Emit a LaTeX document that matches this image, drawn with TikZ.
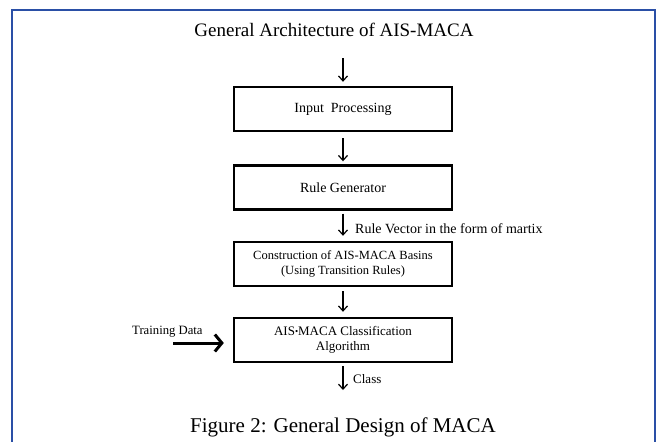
\documentclass[tikz,border=0pt]{standalone}
\usepackage{fontspec}
\setmainfont{Liberation Serif}
\usetikzlibrary{arrows.meta}
\definecolor{frameblue}{HTML}{2A4FA6}
\begin{document}
\begin{tikzpicture}[x=1pt,y=1pt,
  blk/.style={draw=black,line width=2.4pt,minimum width=218pt,minimum height=44pt,inner sep=0pt,align=center},
  flow/.style={line width=1.2pt,-{Straight Barb[length=5pt,width=9pt,line width=1.2pt]}},
  thick arrow/.style={line width=3pt,-{Straight Barb[length=7pt,width=17pt,line width=3pt]}},
  lbl/.style={inner sep=0pt,anchor=west}]
\useasboundingbox (0,0) rectangle (657,-442);
% frame (no bottom edge)
\draw[frameblue,line width=2pt] (12,-442) -- (12,-10) -- (655,-10) -- (655,-442);

\node[font=\fontsize{19}{22}\selectfont] (title) at (334,-30) {General Architecture of AIS-MACA};

\coordinate (top) at (343,-58);
\node[blk,font=\fontsize{14}{16}\selectfont] (inp) at (343,-109) {Input\ \ Processing};
\node[blk,font=\fontsize{14}{16}\selectfont] (rule) at (343,-187.5) {Rule Generator};
\node[blk,font=\fontsize{12.5}{15}\selectfont] (cons) at (343,-264) {Construction of AIS-MACA Basins\\(Using Transition Rules)};
\node[blk,font=\fontsize{13}{15}\selectfont] (cls) at (343,-340) {AIS{\fontsize{9}{9}\selectfont\raisebox{0.25ex}{•}}MACA Classification\\Algorithm};
\coordinate (out) at (343,-390);
\coordinate (train) at (173,-343);

\draw[flow,shorten >=4pt] (top) -- (inp.north);
\draw[flow,shorten <=6pt,shorten >=3pt] (inp.south) -- (rule.north);
\draw[flow,shorten <=3pt,shorten >=5pt] (rule.south) -- (cons.north);
\draw[flow,shorten <=4pt,shorten >=5pt] (cons.south) -- (cls.north);
\draw[flow,shorten <=3pt] (cls.south) -- (out);
\draw[thick arrow,shorten >=9pt] (train) -- (train -| cls.west);

\node[lbl,font=\fontsize{14}{16}\selectfont] (rv) at (355,-229) {Rule Vector in the form of martix};
\node[lbl,font=\fontsize{13}{15}\selectfont] (clab) at (353,-379) {Class};
\node[lbl,font=\fontsize{12.7}{15}\selectfont] (tlab) at (132,-332) {Training Data};

\node[font=\fontsize{21}{24}\selectfont] (cap) at (343,-427) {Figure 2: General Design of MACA};
\end{tikzpicture}
\end{document}
